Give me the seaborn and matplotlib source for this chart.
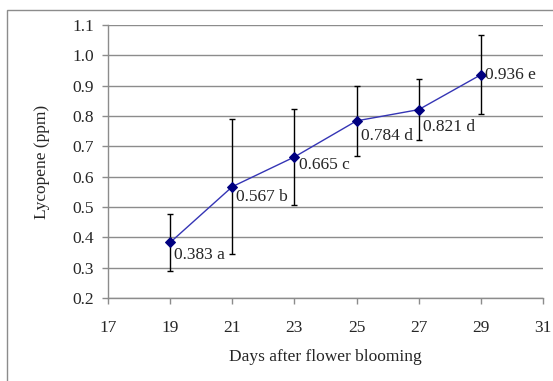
import matplotlib
matplotlib.use("Agg")
import matplotlib.pyplot as plt
import seaborn as sns
import pandas as pd
from matplotlib.patches import Rectangle

# dados
days = [19, 21, 23, 25, 27, 29]
lycopene = [0.383, 0.567, 0.665, 0.784, 0.821, 0.936]
errors = [0.095, 0.222, 0.158, 0.116, 0.100, 0.131]
letters = ['a', 'b', 'c', 'd', 'd', 'e']

df = pd.DataFrame({'days': days, 'lycopene': lycopene})

sns.set_style('white')
plt.rcParams['font.family'] = ['Liberation Serif', 'DejaVu Serif']

fig = plt.figure(figsize=(5.53, 3.81), dpi=100)
ax = fig.add_axes([108 / 553, 1 - 298 / 381, 435 / 553, 273 / 381])

# moldura externa
fig.patches.append(Rectangle((7 / 553, -0.1), 1.2, 1 - 10 / 381 + 0.1,
                             transform=fig.transFigure, fill=False,
                             edgecolor='#8c8c8c', linewidth=1.0))

ax.errorbar(days, lycopene, yerr=errors, fmt='none', ecolor='black',
            elinewidth=1.0, capsize=2, capthick=1.0, zorder=2)
sns.lineplot(data=df, x='days', y='lycopene', ax=ax, color='#3535b5',
             linewidth=1.0, marker='D', markersize=5, markerfacecolor='#000080',
             markeredgecolor='#000080', zorder=3)

# deslocamento dos rótulos (em pontos)
label_dy = [-9, -7.5, -6, -11, -12.5, 0]
for x, y, l, dy in zip(days, lycopene, letters, label_dy):
    ax.annotate(f'{y:.3f} {l}', (x, y), xytext=(3, dy), textcoords='offset points',
                ha='left', va='center', fontsize=12.5)

ax.set_xlim(17, 31)
ax.set_ylim(0.2, 1.1)
ax.set_xticks(range(17, 32, 2))
ax.set_yticks([0.2 + 0.1 * i for i in range(10)])
ax.set_yticklabels([f'{0.2 + 0.1 * i:.1f}' for i in range(10)])
ax.yaxis.grid(True, color='#8c8c8c', linewidth=1.0)
ax.tick_params(axis='both', labelsize=12.5, length=4, color='#8c8c8c', width=1.0,
               direction='out', left=True, bottom=True)
ax.tick_params(axis='y', pad=6)
ax.tick_params(axis='x', pad=12)
for s in ['top', 'right']:
    ax.spines[s].set_visible(False)
for s in ['left', 'bottom']:
    ax.spines[s].set_color('#8c8c8c')
    ax.spines[s].set_linewidth(1.0)

ax.set_xlabel('Days after flower blooming', fontsize=12.5, labelpad=9)
ax.set_ylabel('Lycopene (ppm)', fontsize=12.5, labelpad=16)

fig.savefig('out.png', dpi=100)
